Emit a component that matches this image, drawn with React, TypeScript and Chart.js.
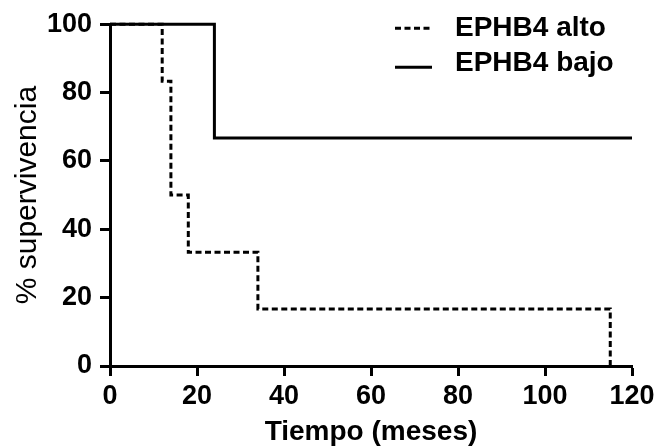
import { useEffect, useRef } from "react";
import { Chart, registerables } from "chart.js";

Chart.register(...registerables);

const altoMonths = [0, 12, 14, 18, 34, 115];
const altoSurvival = [100, 83.3, 50, 33.3, 16.7, 0];
const bajoMonths = [0, 24, 120];
const bajoSurvival = [100, 66.7, 66.7];
const seriesLabels = ["EPHB4 alto", "EPHB4 bajo"];
const xTitle = "Tiempo (meses)";
const yTitle = "% supervivencia";
const xRange = [0, 120];
const yRange = [0, 100];
const xStep = 20;
const yStep = 20;

const FONT = "'Liberation Sans', Arial, Helvetica, sans-serif";

const insideLegend = {
  id: "insideLegend",
  afterDatasetsDraw(chart: any) {
    const { ctx, chartArea } = chart;
    ctx.save();
    chart.data.datasets.forEach((ds: any, i: number) => {
      const lineY = chartArea.top + 4 + i * 39;
      const textY = chartArea.top + 4 + i * 35;
      const x0 = chartArea.right - 237;
      ctx.beginPath();
      ctx.setLineDash(ds.borderDash || []);
      ctx.lineWidth = 3;
      ctx.strokeStyle = "#000";
      ctx.moveTo(x0, lineY);
      ctx.lineTo(x0 + 37, lineY);
      ctx.stroke();
      ctx.setLineDash([]);
      ctx.fillStyle = "#000";
      ctx.font = `bold 28px ${FONT}`;
      ctx.textAlign = "left";
      ctx.textBaseline = "middle";
      ctx.fillText(ds.label, chartArea.right - 177, textY);
    });
    ctx.restore();
  },
};

export default function App() {
  const ref = useRef<HTMLCanvasElement>(null);
  useEffect(() => {
    document.body.style.margin = "0";
    const chart = new Chart(ref.current!, {
      type: "line",
      data: {
        datasets: [
          {
            label: seriesLabels[0],
            data: altoMonths.map((m, i) => ({ x: m, y: altoSurvival[i] })),
            borderColor: "#000",
            borderWidth: 3,
            borderDash: [6, 3.5],
            stepped: "before",
            pointRadius: 0,
            fill: false,
            order: 1,
            clip: false as any,
          },
          {
            label: seriesLabels[1],
            data: bajoMonths.map((m, i) => ({ x: m, y: bajoSurvival[i] })),
            borderColor: "#000",
            borderWidth: 3,
            stepped: "before",
            pointRadius: 0,
            fill: false,
            order: 0,
            clip: false as any,
          },
        ],
      },
      options: {
        animation: false,
        responsive: true,
        maintainAspectRatio: false,
        layout: { padding: { top: 20, right: 27, left: 0, bottom: 0 } },
        plugins: { legend: { display: false }, tooltip: { enabled: false } },
        scales: {
          x: {
            type: "linear",
            min: xRange[0],
            max: xRange[1],
            afterFit: (s: any) => {
              s.height = 82;
            },
            ticks: {
              stepSize: xStep,
              color: "#000",
              padding: 4,
              maxRotation: 0,
              font: { family: FONT, size: 27, weight: "bold" },
            },
            grid: {
              drawOnChartArea: false,
              drawTicks: true,
              tickLength: 10,
              tickWidth: 3,
              tickColor: "#000",
            },
            border: { display: true, color: "#000", width: 3 },
            title: {
              display: true,
              text: xTitle,
              color: "#000",
              padding: { top: 0, bottom: 0 },
              font: { family: FONT, size: 28, weight: "bold", lineHeight: 1.15 },
            },
          },
          y: {
            type: "linear",
            min: yRange[0],
            max: yRange[1],
            afterFit: (s: any) => {
              s.width = 110;
            },
            ticks: {
              stepSize: yStep,
              color: "#000",
              padding: 8,
              font: { family: FONT, size: 27, weight: "bold" },
            },
            grid: {
              drawOnChartArea: false,
              drawTicks: true,
              tickLength: 10,
              tickWidth: 3,
              tickColor: "#000",
            },
            border: { display: true, color: "#000", width: 3 },
            title: {
              display: true,
              text: yTitle,
              color: "#000",
              padding: { top: 10, bottom: 0 },
              font: { family: FONT, size: 30, weight: "normal", lineHeight: 1.2 },
            },
          },
        },
      },
      plugins: [insideLegend],
    });
    return () => chart.destroy();
  }, []);
  return (
    <div style={{ width: 659, height: 448, position: "relative" }}>
      <canvas ref={ref} />
    </div>
  );
}
